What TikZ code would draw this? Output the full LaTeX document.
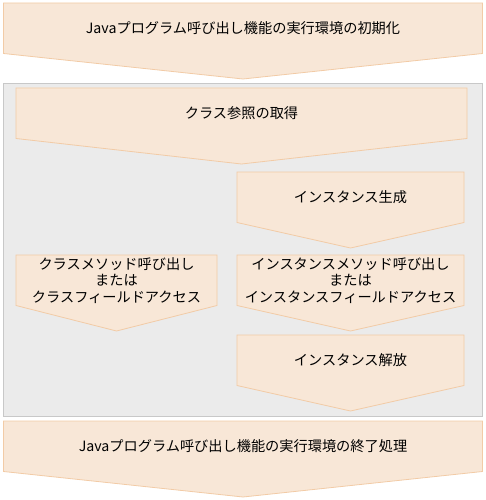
\documentclass[tikz,border=0pt]{standalone}
\usepackage{fontspec}
\setmainfont{Noto Sans CJK JP}
\usetikzlibrary{positioning}
\definecolor{peach}{HTML}{F8E7D7}
\definecolor{peachline}{HTML}{F2CBA6}
\definecolor{panel}{HTML}{EBEBEB}
\definecolor{panelline}{HTML}{C8C8C8}
\tikzset{
  chev/.style={fill=peach, draw=peachline, line width=0.8pt},
  chevtext/.style={font=\fontsize{14.2}{16.8}\selectfont, align=center, inner sep=0pt}
}
% chevron: left, right, top, name, text
\newcommand{\chevron}[5]{%
  \draw[chev] (#1,#3) -- (#2,#3) -- (#2,#3+50.5) -- ({(#1+#2)/2},#3+76) -- (#1,#3+50.5) -- cycle;
  \node[chevtext] (#4) at ({(#1+#2)/2},#3+25.5) {#5};
}
\begin{document}
\begin{tikzpicture}[x=1pt, y=-1pt]
		\useasboundingbox (0,0) rectangle (485,500);
        %\draw[help lines] (0,0) grid[step=50] (485,500);
        \draw[fill=panel, draw=panelline, line width=0.8pt] (3.5,83) rectangle (482.5,416);

        \chevron{3.5}{482.5}{3}{init}{Javaプログラム呼び出し機能の実行環境の初期化}
        \chevron{16}{467}{88}{classref}{クラス参照の取得}
        \chevron{237}{464}{172}{newinst}{インスタンス生成}
        \chevron{16}{217}{255}{classcall}{クラスメソッド呼び出し\\または\\クラスフィールドアクセス}
        \chevron{237}{464}{255}{instcall}{インスタンスメソッド呼び出し\\または\\インスタンスフィールドアクセス}
        \chevron{237}{464}{335}{freeinst}{インスタンス解放}
        \chevron{3.5}{482.5}{421}{finish}{Javaプログラム呼び出し機能の実行環境の終了処理}
\end{tikzpicture}
\end{document}
